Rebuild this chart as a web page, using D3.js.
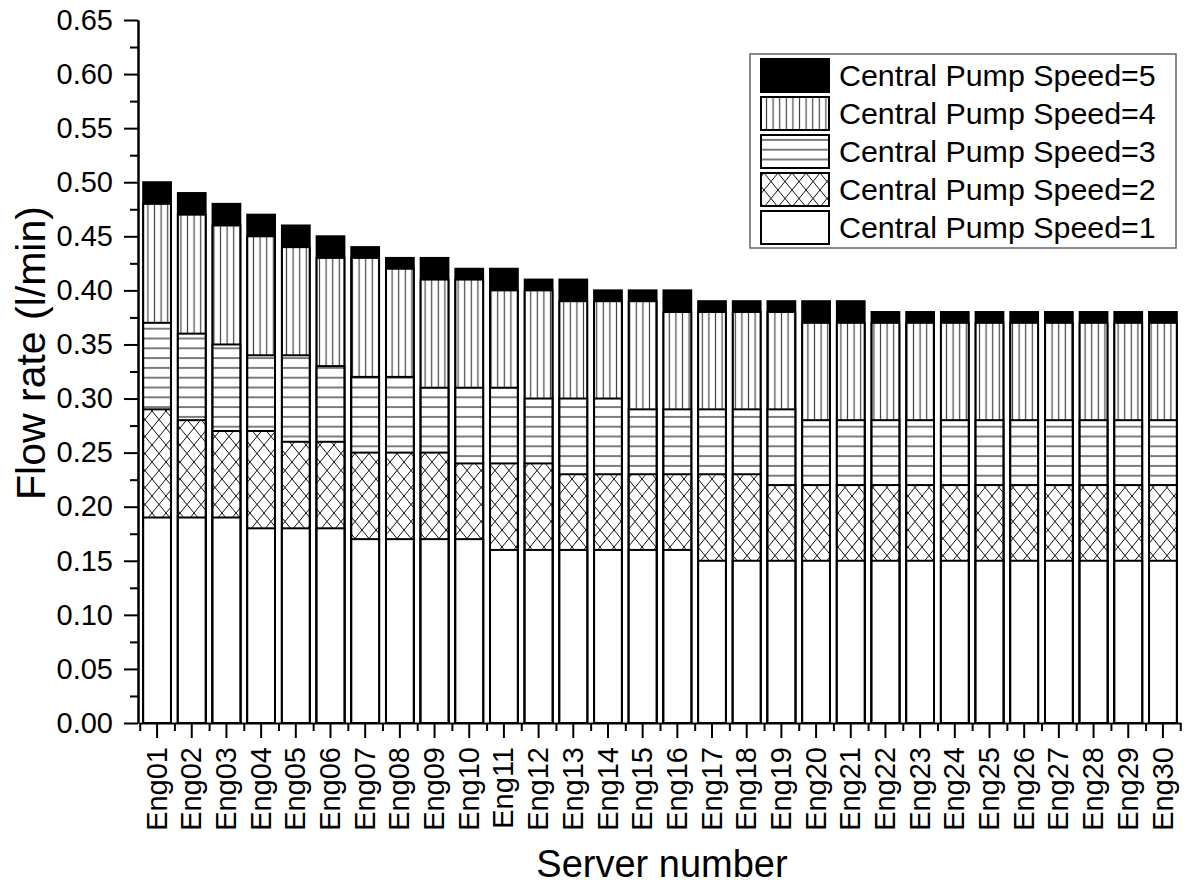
<!DOCTYPE html>
<html>
<head>
<meta charset="utf-8">
<title>Flow rate per server</title>
<script src="https://d3js.org/d3.v7.min.js"></script>
<style>
  body { margin: 0; background: #fff; }
  svg { font-family: "Liberation Sans", Arial, sans-serif; }
  .axis path, .axis line { stroke: #000; stroke-width: 2px; }
  .axis text { fill: #000; }
</style>
</head>
<body>
<div id="chart"></div>
<script>
// data (cumulative flow rate, l/min)
const servers = ["Eng01","Eng02","Eng03","Eng04","Eng05","Eng06","Eng07","Eng08","Eng09","Eng10",
                 "Eng11","Eng12","Eng13","Eng14","Eng15","Eng16","Eng17","Eng18","Eng19","Eng20",
                 "Eng21","Eng22","Eng23","Eng24","Eng25","Eng26","Eng27","Eng28","Eng29","Eng30"];
const speed1 = [0.19,0.19,0.19,0.18,0.18,0.18,0.17,0.17,0.17,0.17,0.16,0.16,0.16,0.16,0.16,
                0.16,0.15,0.15,0.15,0.15,0.15,0.15,0.15,0.15,0.15,0.15,0.15,0.15,0.15,0.15];
const speed2 = [0.29,0.28,0.27,0.27,0.26,0.26,0.25,0.25,0.25,0.24,0.24,0.24,0.23,0.23,0.23,
                0.23,0.23,0.23,0.22,0.22,0.22,0.22,0.22,0.22,0.22,0.22,0.22,0.22,0.22,0.22];
const speed3 = [0.37,0.36,0.35,0.34,0.34,0.33,0.32,0.32,0.31,0.31,0.31,0.30,0.30,0.30,0.29,
                0.29,0.29,0.29,0.29,0.28,0.28,0.28,0.28,0.28,0.28,0.28,0.28,0.28,0.28,0.28];
const speed4 = [0.48,0.47,0.46,0.45,0.44,0.43,0.43,0.42,0.41,0.41,0.40,0.40,0.39,0.39,0.39,
                0.38,0.38,0.38,0.38,0.37,0.37,0.37,0.37,0.37,0.37,0.37,0.37,0.37,0.37,0.37];
const speed5 = [0.50,0.49,0.48,0.47,0.46,0.45,0.44,0.43,0.43,0.42,0.42,0.41,0.41,0.40,0.40,
                0.40,0.39,0.39,0.39,0.39,0.39,0.38,0.38,0.38,0.38,0.38,0.38,0.38,0.38,0.38];
const seriesNames = ["Central Pump Speed=5","Central Pump Speed=4","Central Pump Speed=3",
                     "Central Pump Speed=2","Central Pump Speed=1"];
const seriesFills = ["#000","url(#vlines)","url(#hlines)","url(#cross)","#fff"];
const yMajor = d3.range(0, 0.651, 0.05);
const yMinor = d3.range(0.025, 0.65, 0.05);

const margin = {top: 20, right: 6, bottom: 163, left: 138};
const W = 1188, H = 886;
const w = W - margin.left - margin.right;
const h = H - margin.top - margin.bottom;

const svgRoot = d3.select("#chart").append("svg")
    .attr("width", W).attr("height", H);

// hatch patterns
const defs = svgRoot.append("defs");
const pv = defs.append("pattern").attr("id", "vlines").attr("patternUnits", "userSpaceOnUse")
    .attr("width", 6.6).attr("height", 10);
pv.append("rect").attr("width", 6.6).attr("height", 10).attr("fill", "#fff");
pv.append("line").attr("x1", 3.3).attr("x2", 3.3).attr("y1", 0).attr("y2", 10)
    .attr("stroke", "#444").attr("stroke-width", 1.2);

const ph = defs.append("pattern").attr("id", "hlines").attr("patternUnits", "userSpaceOnUse")
    .attr("width", 10).attr("height", 9.8);
ph.append("rect").attr("width", 10).attr("height", 9.8).attr("fill", "#fff");
ph.append("line").attr("x1", 0).attr("x2", 10).attr("y1", 4.9).attr("y2", 4.9)
    .attr("stroke", "#444").attr("stroke-width", 1.4);

const pc = defs.append("pattern").attr("id", "cross").attr("patternUnits", "userSpaceOnUse")
    .attr("width", 14).attr("height", 17);
pc.append("rect").attr("width", 14).attr("height", 17).attr("fill", "#fff");
pc.append("path").attr("d", "M0,0L14,17M14,0L0,17")
    .attr("stroke", "#111").attr("stroke-width", 1).attr("fill", "none");

const svg = svgRoot.append("g")
    .attr("transform", "translate(" + margin.left + "," + margin.top + ")");

// scales
const x = d3.scaleBand().domain(servers).range([0, w]).paddingInner(0.2).paddingOuter(0.15);
const y = d3.scaleLinear().domain([0, 0.65]).range([h, 0]);
const xEdge = d3.scaleLinear().domain([0, servers.length])
    .range([x(servers[0]) + x.bandwidth() / 2 - x.step() / 2,
            x(servers[servers.length - 1]) + x.bandwidth() / 2 + x.step() / 2]);

// bars: tallest series first, so each lower one is drawn over it
const allSeries = [speed5, speed4, speed3, speed2, speed1];
allSeries.forEach(function(vals, k) {
    svg.append("g").selectAll("rect")
        .data(servers)
        .enter()
        .append("rect")
        .attr("x", function(d) { return x(d); })
        .attr("width", x.bandwidth())
        .attr("y", function(d, i) { return y(vals[i]); })
        .attr("height", function(d, i) { return y(0) - y(vals[i]); })
        .attr("fill", seriesFills[k])
        .attr("stroke", "#000")
        .attr("stroke-width", 2);
});

// axes
svg.append("g")
    .attr("class", "axis")
    .attr("transform", "translate(0," + h + ")")
    .call(d3.axisBottom(xEdge).tickValues(d3.range(servers.length + 1)).tickSize(8).tickSizeOuter(0).tickFormat(""));

const xAx = svg.append("g")
    .attr("class", "axis")
    .attr("transform", "translate(0," + h + ")")
    .call(d3.axisBottom(x).tickSize(15).tickSizeOuter(0));
xAx.select(".domain").remove();
xAx.selectAll("text")
    .attr("transform", "rotate(-90)")
    .attr("x", -24)
    .attr("y", 0)
    .attr("dy", "0.33em")
    .style("text-anchor", "end")
    .style("font-size", "29px");

svg.append("g")
    .attr("class", "axis")
    .call(d3.axisLeft(y).tickValues(yMinor).tickSize(8).tickSizeOuter(0).tickFormat(""));

svg.append("g")
    .attr("class", "axis")
    .call(d3.axisLeft(y).tickValues(yMajor).tickSize(14).tickSizeOuter(0)
        .tickPadding(11).tickFormat(d3.format(".2f")))
    .selectAll("text")
    .style("font-size", "29px");

// axis titles
svgRoot.append("text")
    .attr("transform", "translate(45,353) rotate(-90)")
    .attr("text-anchor", "middle")
    .style("font-size", "41px")
    .text("Flow rate (l/min)");

svgRoot.append("text")
    .attr("x", margin.left + w / 2 + 2)
    .attr("y", 877)
    .attr("text-anchor", "middle")
    .style("font-size", "38px")
    .text("Server number");

// legend
const legend = svgRoot.append("g").attr("transform", "translate(750,54)");
legend.append("rect")
    .attr("width", 426).attr("height", 194)
    .attr("fill", "#fff").attr("stroke", "#666").attr("stroke-width", 1.5);

const rows = legend.selectAll("g.row")
    .data(seriesNames)
    .enter()
    .append("g")
    .attr("class", "row")
    .attr("transform", function(d, i) { return "translate(0," + (5 + i * 38) + ")"; });
rows.append("rect")
    .attr("x", 11).attr("width", 68).attr("height", 33)
    .attr("fill", function(d, i) { return seriesFills[i]; })
    .attr("stroke", "#000").attr("stroke-width", 2);
rows.append("text")
    .attr("x", 89).attr("y", 27)
    .style("font-size", "30.4px")
    .text(function(d) { return d; });
</script>
</body>
</html>
